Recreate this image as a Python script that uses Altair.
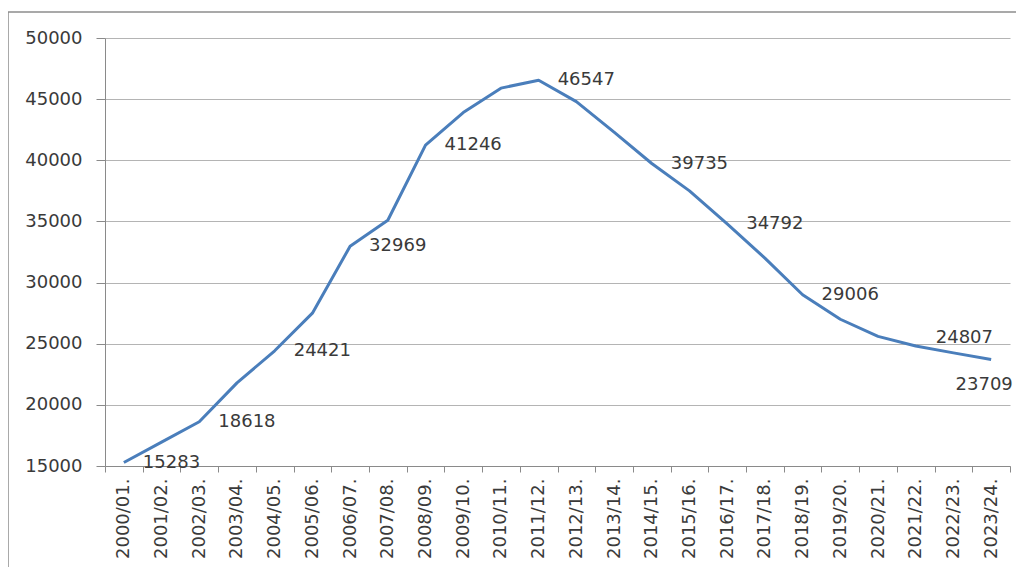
import altair as alt
import pandas as pd

seasons = ["2000/01.", "2001/02.", "2002/03.", "2003/04.", "2004/05.", "2005/06.",
           "2006/07.", "2007/08.", "2008/09.", "2009/10.", "2010/11.", "2011/12.",
           "2012/13.", "2013/14.", "2014/15.", "2015/16.", "2016/17.", "2017/18.",
           "2018/19.", "2019/20.", "2020/21.", "2021/22.", "2022/23.", "2023/24."]
values = [15283, 16950, 18618, 21800, 24421, 27500, 32969, 35100, 41246, 43900,
          45900, 46547, 44800, 42300, 39735, 37500, 34792, 32000, 29006, 27000,
          25600, 24807, 24250, 23709]
# which points carry a data label
labeled = [True, False, True, False, True, False, True, False, True, False,
           False, True, False, False, True, False, True, False, True, False,
           False, True, False, True]
y_ticks = [15000, 20000, 25000, 30000, 35000, 40000, 45000, 50000]

df = pd.DataFrame({"season": seasons, "value": values, "labeled": labeled})
df["order"] = range(len(df))

FONT = "DejaVu Sans"
TXT = "#3a3a3a"
AX = "#8a8a8a"

x_enc = alt.X("season:N", sort=seasons, title=None,
              scale=alt.Scale(paddingInner=0, paddingOuter=0),
              axis=alt.Axis(labelAngle=270, labelFont=FONT, labelFontSize=18,
                            labelColor=TXT, tickBand="extent", tickSize=6,
                            tickColor=AX, domainColor=AX,
                            labelPadding=6, grid=False))
y_enc = alt.Y("value:Q", title=None,
              scale=alt.Scale(domain=[15000, 50000], nice=False, zero=False),
              axis=alt.Axis(values=y_ticks, format="d", labelFont=FONT,
                            labelFontSize=18, labelColor=TXT, tickSize=9,
                            tickColor=AX, domainColor=AX,
                            labelPadding=14, gridColor="#b4b4b4", gridWidth=1.2))

base = alt.Chart(df)

line = base.mark_line(color="#4a7ebb", strokeWidth=3, strokeJoin="round").encode(
    x=x_enc, y=y_enc, order="order:Q")

text_kw = dict(font=FONT, fontSize=18, color=TXT, baseline="middle")
x_plain = alt.X("season:N", sort=seasons)
txt = alt.Text("value:Q", format="d")

labels_right = base.transform_filter(
    "datum.labeled && datum.order != 23 && datum.order != 21"
).mark_text(align="left", dx=19, **text_kw).encode(x=x_plain, y="value:Q", text=txt)

labels_raised = base.transform_filter(
    "datum.order == 21"
).mark_text(align="left", dx=20, dy=-8, **text_kw).encode(x=x_plain, y="value:Q", text=txt)

labels_below = base.transform_filter(
    "datum.order == 23"
).mark_text(align="center", dx=-7, dy=25, **text_kw).encode(x=x_plain, y="value:Q", text=txt)

one = alt.Data(values=[{}])
frame_top = alt.Chart(one).mark_rule(stroke="#8c8c8c", strokeWidth=1.5).encode(
    x=alt.value(-97), x2=alt.value(1040), y=alt.value(-26))
frame_left = alt.Chart(one).mark_rule(stroke="#8c8c8c", strokeWidth=1.5).encode(
    x=alt.value(-97), y=alt.value(-26), y2=alt.value(620))

chart = alt.layer(frame_top, frame_left, line, labels_right, labels_raised,
                  labels_below).properties(
    width=905, height=428,
    autosize=alt.AutoSizeParams(type="none"),
    padding={"left": 97, "top": 30, "right": 6, "bottom": 101},
    background="white",
).configure_view(strokeWidth=0)

chart.save("out.html", embed_options={"renderer": "svg", "actions": False})
